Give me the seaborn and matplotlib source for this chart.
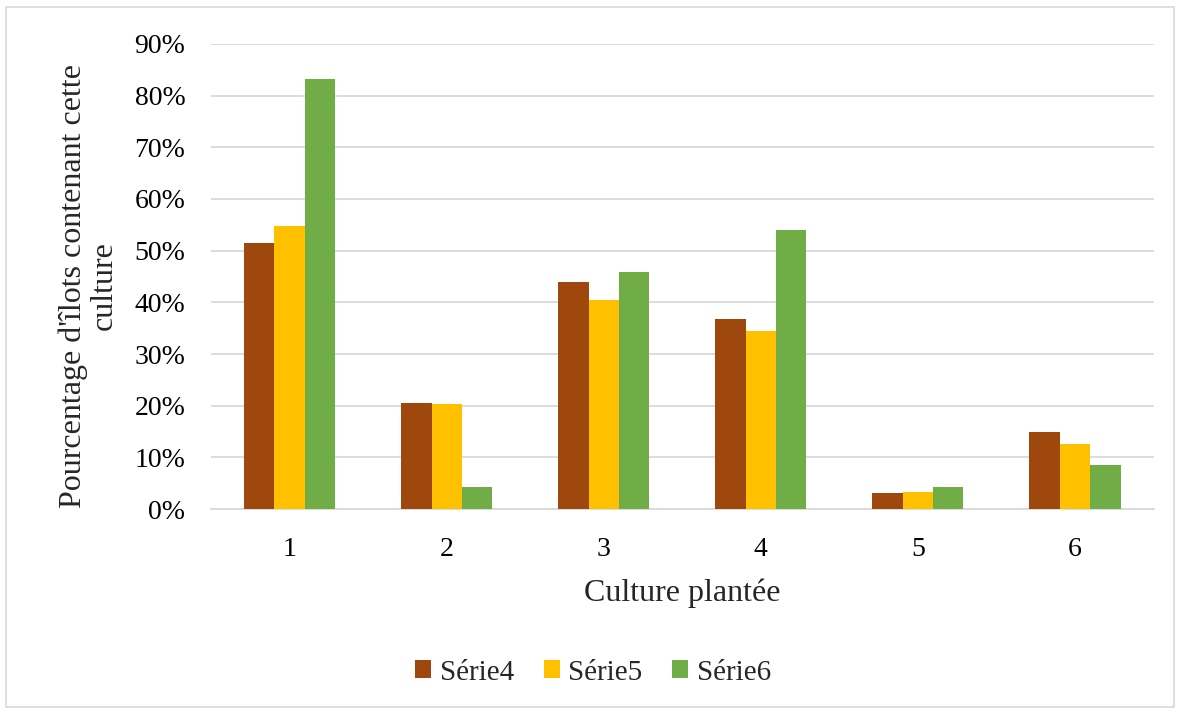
import matplotlib
matplotlib.use("Agg")
import matplotlib.pyplot as plt
import matplotlib.patches as mpatches
from matplotlib.ticker import PercentFormatter, MultipleLocator
import seaborn as sns
import pandas as pd

categories = ["1", "2", "3", "4", "5", "6"]
serie4 = [0.514, 0.205, 0.440, 0.367, 0.031, 0.149]
serie5 = [0.547, 0.203, 0.405, 0.344, 0.033, 0.125]
serie6 = [0.832, 0.042, 0.459, 0.540, 0.042, 0.085]
series_names = ["Série4", "Série5", "Série6"]
colors = ["#9E480E", "#FFC000", "#70AD47"]

df = pd.DataFrame({
    "culture": categories * 3,
    "serie": [s for s in series_names for _ in categories],
    "valeur": serie4 + serie5 + serie6,
})

sns.set_theme(style="white")
plt.rcParams["font.family"] = ["Liberation Serif", "DejaVu Serif"]

fig = plt.figure(figsize=(11.86, 7.14), dpi=100)
ax = fig.add_axes([0.178, 0.2871, 0.7946, 0.6513])

sns.barplot(data=df, x="culture", y="valeur", hue="serie", order=categories,
            hue_order=series_names, palette=colors, width=0.58, saturation=1,
            ax=ax, legend=True, zorder=3, linewidth=0, edgecolor="none")

ax.set_ylim(0, 0.9)
ax.yaxis.set_major_locator(MultipleLocator(0.1))
ax.yaxis.set_major_formatter(PercentFormatter(1.0, decimals=0))
ax.grid(axis="y", color="#D9D9D9", linewidth=1.3, zorder=0)
ax.set_axisbelow(True)
for side in ["top", "right", "left"]:
    ax.spines[side].set_visible(False)
ax.spines["bottom"].set_color("#D9D9D9")
ax.spines["bottom"].set_linewidth(1.3)
ax.tick_params(axis="both", length=0, labelsize=20, colors="#000000")
ax.tick_params(axis="y", pad=18.5)
ax.tick_params(axis="x", pad=20)

ax.set_xlabel("Culture plantée", fontsize=23)
ax.xaxis.set_label_coords(0.5, -0.150)
ax.set_ylabel("Pourcentage d'îlots contenant cette\nculture", fontsize=23,
              linespacing=1.1)
ax.yaxis.set_label_coords(-0.098, 0.48)

handles, labels = ax.get_legend_handles_labels()
ax.legend(handles, labels, loc="center", bbox_to_anchor=(0.5, 0.058),
          bbox_transform=fig.transFigure, ncol=3, frameon=False, fontsize=21,
          handlelength=0.55, handleheight=0.55, handletextpad=0.3,
          columnspacing=1.0)

fig.patches.append(mpatches.Rectangle((6 / 1186, 1 - 707 / 714), 1168 / 1186, 700 / 714,
                                      transform=fig.transFigure, fill=False,
                                      edgecolor="#D9D9D9", linewidth=1.2))

fig.savefig("out.png", dpi=100)
